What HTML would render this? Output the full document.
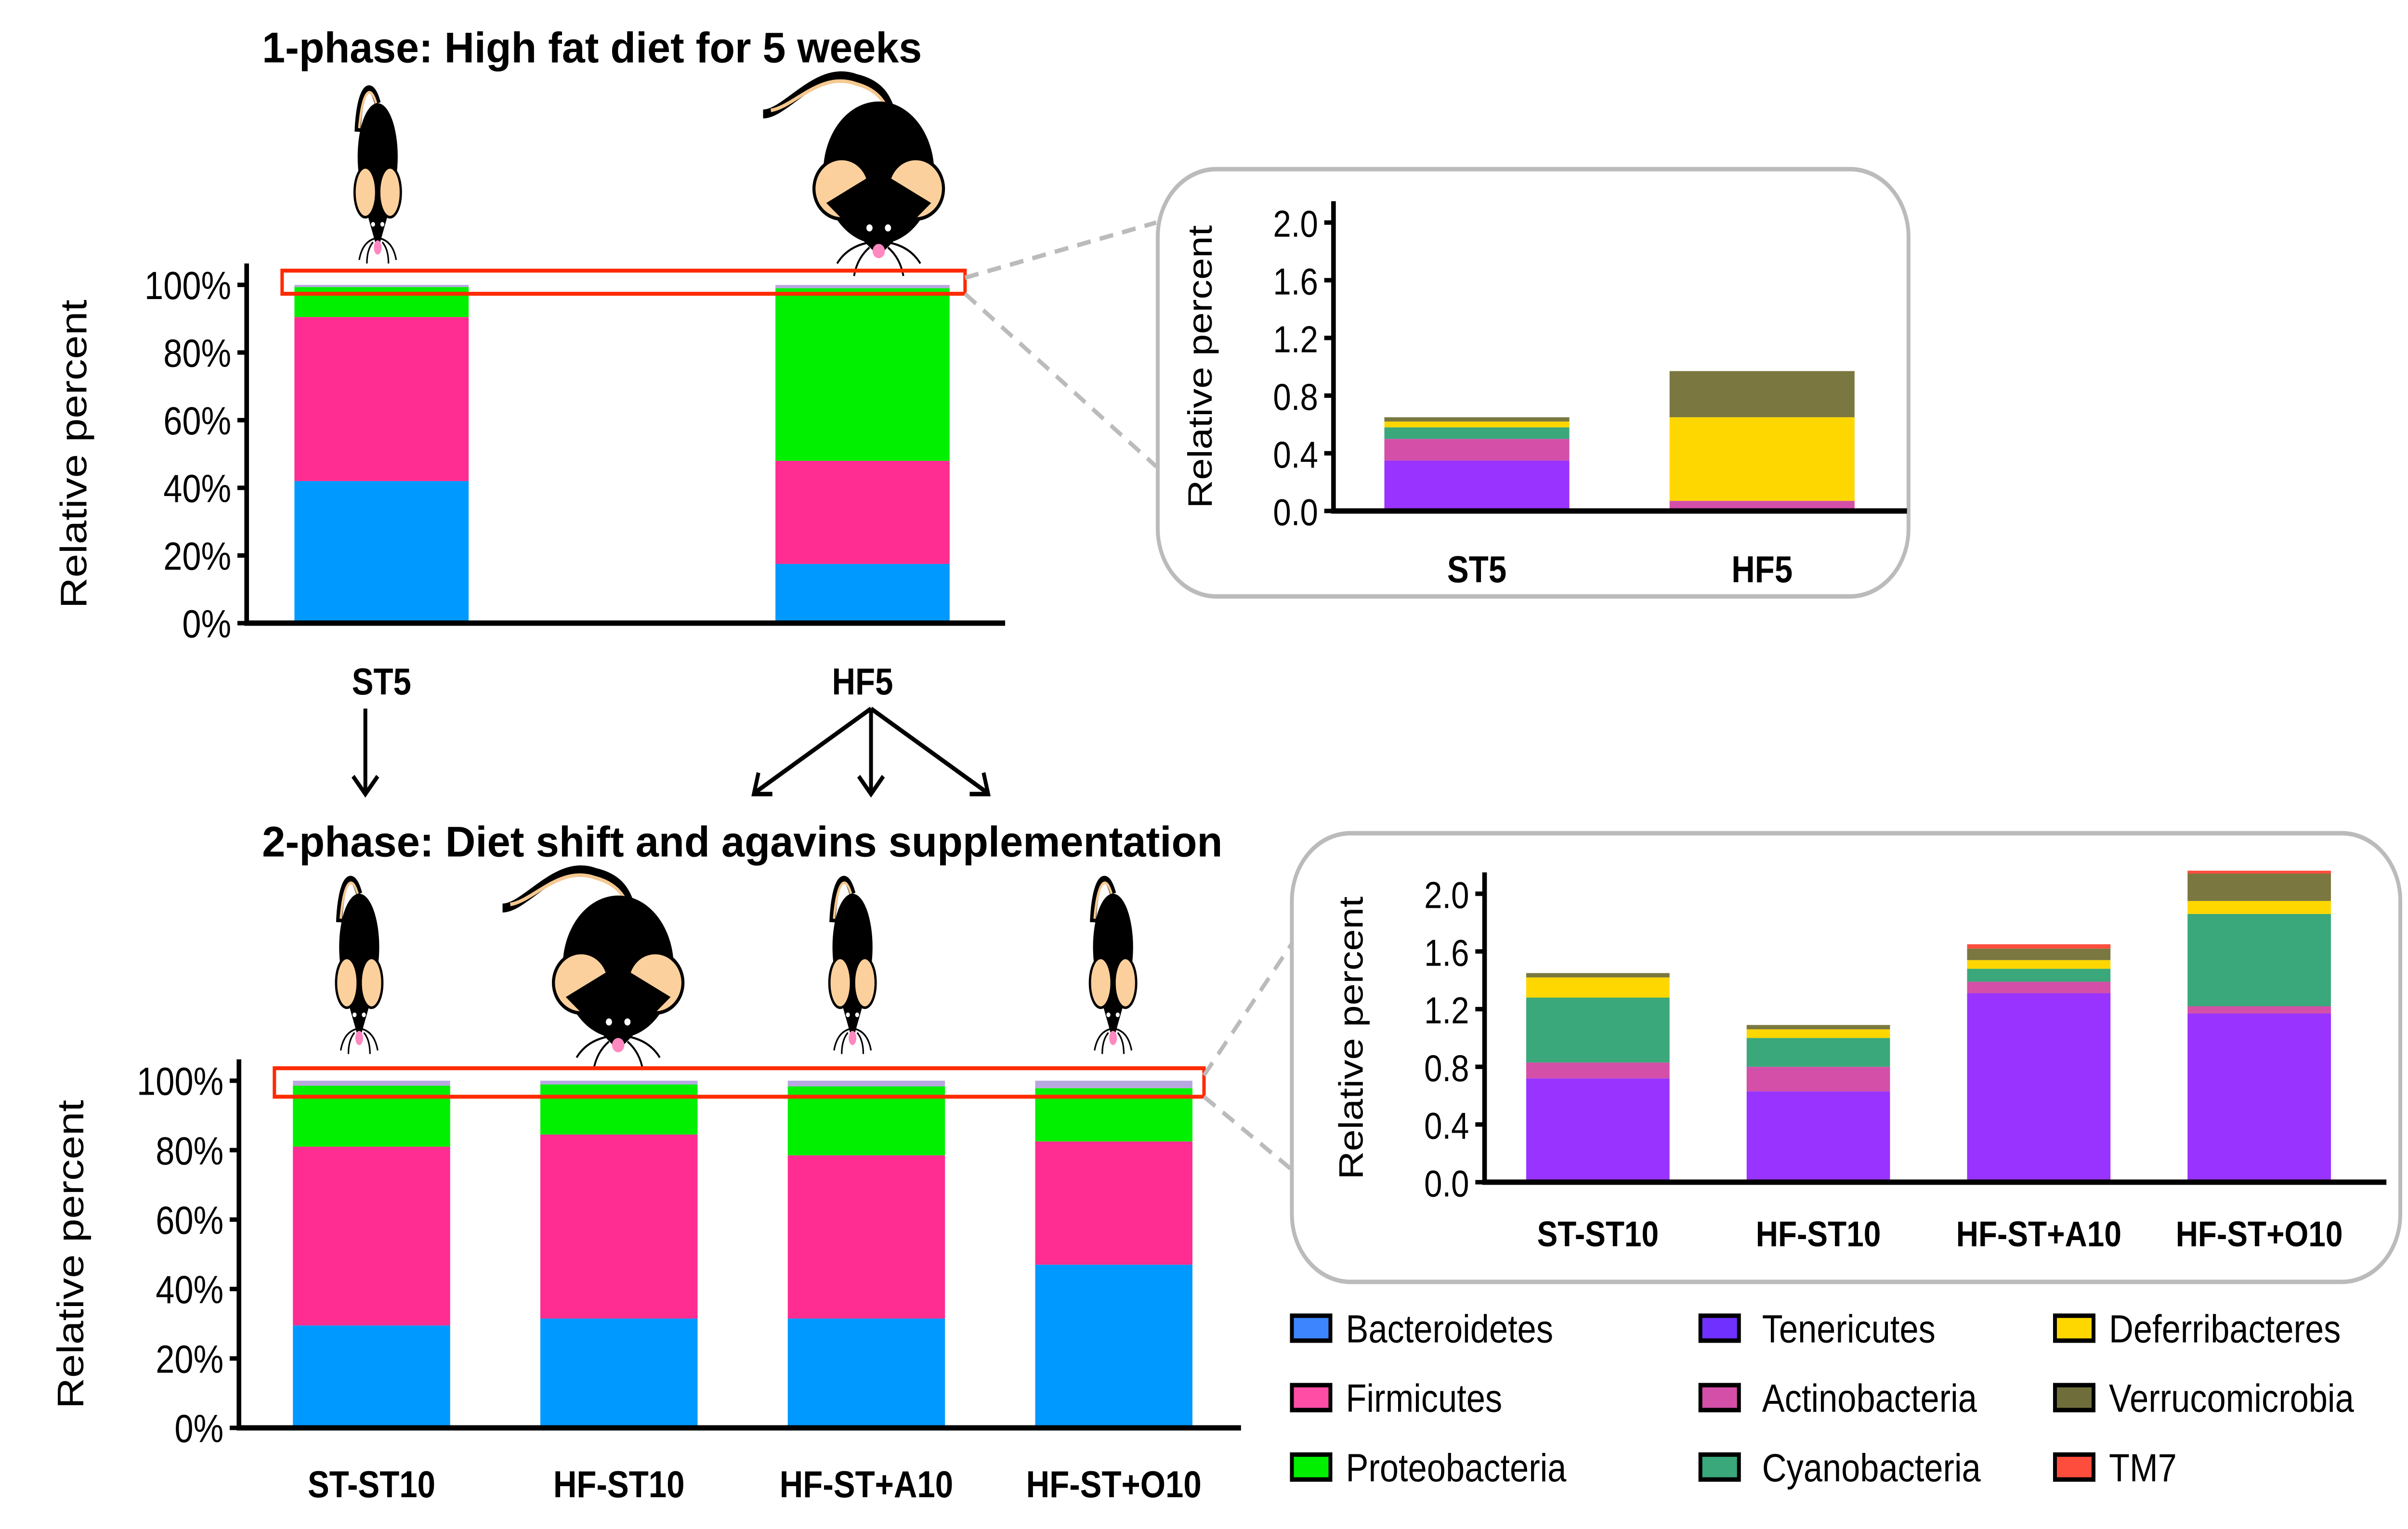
<!DOCTYPE html>
<html><head><meta charset="utf-8"><style>html,body{margin:0;padding:0;background:#fff;overflow:hidden;width:100%;height:100%}svg{display:block;width:100vw;height:100vh}text{font-family:"Liberation Sans",Arial,sans-serif}</style></head>
<body>
<svg id="fig" viewBox="0 0 1562 858.8" preserveAspectRatio="none" xmlns="http://www.w3.org/2000/svg">
<text x="170" y="35" font-size="24" font-weight="bold" textLength="428" lengthAdjust="spacingAndGlyphs">1-phase: High fat diet for 5 weeks</text>
<text x="170" y="481" font-size="24" font-weight="bold" textLength="623" lengthAdjust="spacingAndGlyphs">2-phase: Diet shift and agavins supplementation</text>
<g id="arrows" stroke="#000" stroke-width="2.5" fill="none">
<line x1="237" y1="398" x2="237" y2="445"/><polyline points="229,436 237,446 245,436"/>
<line x1="565" y1="398" x2="565" y2="445"/><polyline points="557,436 565,446 573,436"/>
<line x1="565" y1="398" x2="490" y2="445"/><polyline points="492,434 489,446 501,446"/>
<line x1="565" y1="398" x2="640" y2="445"/><polyline points="638,434 641,446 629,446"/>
</g>
<g id="mice"></g>
<g id="charts"></g>
<g id="legend"></g>
</svg>
<script>
const phyla = ["Bacteroidetes","Firmicutes","Proteobacteria","Tenericutes","Actinobacteria","Cyanobacteria","Deferribacteres","Verrucomicrobia","TM7"];
const colors = ["#0099ff","#ff2d91","#00f000","#9933ff","#d44fa8","#3aa87a","#ffd700","#7a7840","#ff4d3d"];
const legendColors = ["#3d85ff","#ff4da6","#00f000","#7030ff","#d44fa8","#3aa87a","#ffd700","#6f6d3a","#ff4d3d"];
// phase 1 (percent)
const cats1 = ["ST5","HF5"];
const bact1 = [42, 17.5];
const firm1 = [48.5, 30.5];
const prot1 = [8.85, 51.0];
// phase 1 minor (percent)
const ten1 = [0.35, 0.01];
const act1 = [0.15, 0.06];
const cya1 = [0.08, 0.0];
const def1 = [0.04, 0.58];
const ver1 = [0.03, 0.32];
const tm1 = [0, 0];
// phase 2
const cats2 = ["ST-ST10","HF-ST10","HF-ST+A10","HF-ST+O10"];
const bact2 = [29.5, 31.5, 31.5, 47];
const firm2 = [51.5, 53, 47, 35.5];
const prot2 = [17.55, 14.41, 19.85, 15.34];
const ten2 = [0.72, 0.63, 1.31, 1.17];
const act2 = [0.11, 0.17, 0.08, 0.05];
const cya2 = [0.45, 0.20, 0.09, 0.64];
const def2 = [0.14, 0.06, 0.06, 0.09];
const ver2 = [0.03, 0.03, 0.08, 0.19];
const tm2 = [0, 0, 0.03, 0.02];
const ticks1 = ["0%","20%","40%","60%","80%","100%"];
const ticksIn = ["0.0","0.4","0.8","1.2","1.6","2.0"];

const NS="http://www.w3.org/2000/svg";
const root=document.getElementById('charts');
function mk(tag,attrs,parent){const e=document.createElementNS(NS,tag);for(const k in attrs)e.setAttribute(k,attrs[k]);(parent||root).appendChild(e);return e;}
function txt(s,x,y,attrs,parent){const t=mk('text',Object.assign({x:x,y:y},attrs),parent);t.textContent=s;return t;}

function chart(o){
  const g=mk('g',{});
  
  
  const ys=v=>o.y0-(v/o.max)*(o.y0-o.y1);
  const bx=i=>o.x0+o.pad+i*o.step;
  o.series.forEach((ser,si)=>{
    o.cats.forEach((c,i)=>{
      let base=0;for(let k=0;k<si;k++)base+=o.series[k][i];
      const v=ser[i];if(v<=0)return;
      const r=mk('rect',{x:bx(i),y:ys(base+v),width:o.bw,height:ys(base)-ys(base+v),fill:o.cols[si]},g);
      
      
    });
  });
  o.ticks.forEach((t,i)=>{
    const v=i*o.max/(o.ticks.length-1);
    mk('line',{x1:o.x0-6,x2:o.x0,y1:ys(v),y2:ys(v),stroke:'#000','stroke-width':2.5},g);
    const tl=txt(t,o.x0-10,ys(v)+8,{'font-size':o.fs,'text-anchor':'end'},g);
    
    
  });
  const ax=mk('path',{d:`M${o.x0},${o.y1-12}V${o.y0}H${o.xe}`,stroke:'#000','stroke-width':3,fill:'none'},g);
  
  
  o.cats.forEach((c,i)=>{
    const l=txt(c,bx(i)+o.bw/2,o.ly,{'font-size':o.lfs,'font-weight':'bold','text-anchor':'middle'},g);
    
    
  });
  const yt=txt('Relative percent',0,0,{'font-size':o.tfs,'text-anchor':'middle',transform:`translate(${o.tx},${(o.y0+o.y1)/2}) rotate(-90)`},g);
  
  
}
function sumArr(arrs){return arrs[0].map((_,i)=>arrs.reduce((s,a)=>s+a[i],0));}
const minor1=sumArr([ten1,act1,cya1,def1,ver1,tm1]);
const minor2=sumArr([ten2,act2,cya2,def2,ver2,tm2]);
const mainCols=[colors[0],colors[1],colors[2],"#b8a8e0"];
chart({name:'phase1-chart',cats:cats1,series:[bact1,firm1,prot1,minor1],names:['bacteroidetes','firmicutes','proteobacteria','minor'],cols:mainCols,
 x0:160,xe:652,y0:350,y1:160,max:100,pad:31,step:312,bw:113,ticks:ticks1,fs:22,lfs:21,ly:390,tx:56,tfs:24});
chart({name:'phase2-chart',cats:cats2,series:[bact2,firm2,prot2,minor2],names:['bacteroidetes','firmicutes','proteobacteria','minor'],cols:mainCols,
 x0:155,xe:805,y0:802,y1:607,max:100,pad:35,step:160.5,bw:102,ticks:ticks1,fs:22,lfs:21,ly:841,tx:54,tfs:24});
function box(x,y,w,h,name){const r=mk('rect',{x:x,y:y,width:w,height:h,rx:38,fill:'none',stroke:'#bbb','stroke-width':2.5});}
box(751,95,487,240,'inset1-box');
box(838,468,719,252,'inset2-box');
chart({name:'inset1-chart',cats:cats1,series:[ten1,act1,cya1,def1,ver1,tm1],names:phyla.slice(3),cols:colors.slice(3),
 x0:865,xe:1237,y0:287,y1:125,max:2,pad:33,step:185,bw:120,ticks:ticksIn,fs:21,lfs:21,ly:327,tx:786,tfs:22});
chart({name:'inset2-chart',cats:cats2,series:[ten2,act2,cya2,def2,ver2,tm2],names:phyla.slice(3),cols:colors.slice(3),
 x0:963,xe:1548,y0:664,y1:502,max:2,pad:27,step:143,bw:93,ticks:ticksIn,fs:21,lfs:20,ly:700,tx:884,tfs:22});
[[183,152,443,13,'highlight-box-1'],[178,600,603,16,'highlight-box-2']].forEach(b=>{const r=mk('rect',{x:b[0],y:b[1],width:b[2],height:b[3],fill:'none',stroke:'#ff2a00','stroke-width':2.2});});
[[626,156,750,125],[626,165,750,262],[781,604,838,530],[781,616,838,657]].forEach(l=>{const e=mk('line',{x1:l[0],y1:l[1],x2:l[2],y2:l[3],stroke:'#bbb','stroke-width':2.5,'stroke-dasharray':'9,6'});});
const lg=document.getElementById('legend');
const colX=[838,1103,1333], txX=[873,1143,1368], rowY=[746,785,824];
phyla.forEach((p,i)=>{
  const c=Math.floor(i/3), r=i%3;
  const s=mk('rect',{x:colX[c],y:rowY[r]-7,width:25,height:14,fill:legendColors[i],stroke:'#000','stroke-width':2.5},lg);
  
  
  const t=txt(p,txX[c],rowY[r]+8,{'font-size':22},lg);
  
  
});
const mg=document.getElementById('mice');
function thin(cx,top){
  const g=mk('g',{},mg);
  
  
  mk('path',{d:`M${cx-13},${top+28} C${cx-12},${top+5} ${cx-5},${top-4} ${cx},${top+12}`,stroke:'#000','stroke-width':4,fill:'none'},g);
  mk('path',{d:`M${cx-12},${top+26} C${cx-10},${top+6} ${cx-5},${top} ${cx-1},${top+12}`,stroke:'#f5c890','stroke-width':1.5,fill:'none'},g);
  mk('ellipse',{cx:cx,cy:top+42,rx:13,ry:30,fill:'#000'},g);
  mk('path',{d:`M${cx-13},${top+55} L${cx},${top+95} L${cx+13},${top+55}Z`,fill:'#000'},g);
  mk('ellipse',{cx:cx-8,cy:top+62,rx:7,ry:14,fill:'#fcd09c',stroke:'#000','stroke-width':1.5},g);
  mk('ellipse',{cx:cx+8,cy:top+62,rx:7,ry:14,fill:'#fcd09c',stroke:'#000','stroke-width':1.5},g);
  mk('circle',{cx:cx-3,cy:top+80,r:1.3,fill:'#fff'},g);mk('circle',{cx:cx+3,cy:top+80,r:1.3,fill:'#fff'},g);
  mk('ellipse',{cx:cx,cy:top+93,rx:2.5,ry:4,fill:'#ff88c0'},g);
  mk('path',{d:`M${cx-2},${top+88} q-8,2 -10,12 M${cx+2},${top+88} q8,2 10,12 M${cx-3},${top+90} q-4,4 -4,12 M${cx+3},${top+90} q4,4 4,12`,stroke:'#000','stroke-width':1,fill:'none'},g);
}
function fat(cx,top){
  const g=mk('g',{},mg);
  
  
  mk('path',{d:`M${cx-75},${top+22} C${cx-60},${top+22} ${cx-40},${top-6} ${cx-15},${top+2} C${cx},${top+5} ${cx+5},${top+12} ${cx+8},${top+20}`,stroke:'#000','stroke-width':5,fill:'none'},g);
  mk('path',{d:`M${cx-70},${top+20} C${cx-55},${top+18} ${cx-38},${top-2} ${cx-15},${top+5} C${cx-2},${top+8} ${cx+3},${top+14} ${cx+6},${top+20}`,stroke:'#f5c890','stroke-width':2,fill:'none'},g);
  mk('ellipse',{cx:cx,cy:top+55,rx:36,ry:40,fill:'#000'},g);
  mk('path',{d:`M${cx-36},${top+60} L${cx},${top+102} L${cx+36},${top+60}Z`,fill:'#000'},g);
  mk('ellipse',{cx:cx-24,cy:top+64,rx:18,ry:17,fill:'#fcd09c',stroke:'#000','stroke-width':2},g);
  mk('ellipse',{cx:cx+24,cy:top+64,rx:18,ry:17,fill:'#fcd09c',stroke:'#000','stroke-width':2},g);
  mk('path',{d:`M${cx-34},${top+72} L${cx},${top+102} L${cx+34},${top+72} L${cx},${top+54}Z`,fill:'#000'},g);
  mk('circle',{cx:cx-6,cy:top+86,r:2,fill:'#fff'},g);mk('circle',{cx:cx+6,cy:top+86,r:2,fill:'#fff'},g);
  mk('ellipse',{cx:cx,cy:top+99,rx:4,ry:4,fill:'#ff88c0'},g);
  mk('path',{d:`M${cx-5},${top+94} q-15,2 -22,12 M${cx+5},${top+94} q15,2 22,12 M${cx-6},${top+97} q-8,6 -10,16 M${cx+6},${top+97} q8,6 10,16`,stroke:'#000','stroke-width':1.2,fill:'none'},g);
}
thin(245,46); fat(570,42);
thin(233,490); fat(401,488); thin(553,490); thin(722,490);
</script>
</body></html>
